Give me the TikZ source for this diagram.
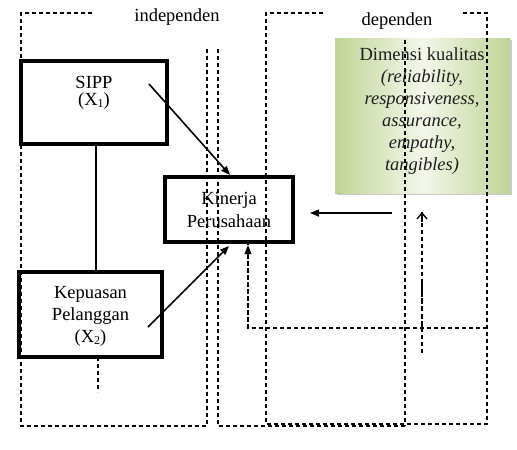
\documentclass[tikz,border=0pt]{standalone}
\usepackage{fontspec}
\setmainfont{Liberation Serif}
\usetikzlibrary{arrows.meta,shadows}
\definecolor{gdark}{RGB}{192,212,150}
\definecolor{glight}{RGB}{243,247,234}
\definecolor{txtdark}{RGB}{30,30,30}
\tikzset{
  x=1pt,y=-1pt,
  thickbox/.style={draw=black,line width=3.3pt,fill=white,inner sep=0pt},
  lbl/.style={font=\fontsize{18.5}{22}\selectfont,align=center,inner sep=0pt},
  dsh/.style={draw=black,line width=1.1pt,dash pattern=on 4pt off 3pt},
  solidarrow/.style={draw=black,line width=1.6pt,-{Triangle[length=9pt,width=7pt]}},
  greenbox/.style={inner sep=0pt,left color=gdark,right color=gdark,middle color=glight,
     drop shadow={shadow xshift=2pt,shadow yshift=-2pt,fill=black!35,opacity=0.6}},
}
\newcommand{\subnum}[1]{\raisebox{-0.2ex}{\fontsize{12}{12}\selectfont #1}}
\begin{document}
\begin{tikzpicture}
\useasboundingbox (0,0) rectangle (517,450);
% green box
\node[greenbox,minimum width=175pt,minimum height=155pt] (dim) at (422.5,115.5) {};
\node[lbl,text=txtdark] (dimt) at (422,111) {Dimensi kualitas\\\textit{(reliability,}\\\textit{responsiveness,}\\\textit{assurance,}\\\textit{empathy,}\\\textit{tangibles)}};
% boxes
\node[thickbox,minimum width=146pt,minimum height=83pt] (sipp) at (94,102.5) {};
\node[lbl,font=\fontsize{18.5}{17}\selectfont] (sippt) at (94,93) {SIPP\\(X\subnum{1})};
\node[thickbox,minimum width=143pt,minimum height=85pt] (kep) at (90.5,314.5) {};
\node[lbl] (kept) at (90.5,316.5) {Kepuasan\\Pelanggan\\(X\subnum{2})};
\node[thickbox,minimum width=128pt,minimum height=65pt] (kin) at (229,209.5) {};
\node[lbl,font=\fontsize{18.5}{23}\selectfont] (kint) at (229,209.5) {Kinerja\\Perusahaan};
% headings
\node[lbl] (indep) at (177,17) {independen};
\node[lbl] (dep) at (397,21) {dependen};
% coordinates
\coordinate (a1) at (149,84);
\coordinate (a2) at (230,175);
\coordinate (b1) at (148,327);
\coordinate (b2) at (229,246);
\coordinate (c1) at (392,213);
\coordinate (c2) at (310,213);
\coordinate (d1) at (487,328);
\coordinate (d2) at (248,328);
\coordinate (e1) at (422,353);
\coordinate (e2) at (422,212);
% dashed frames
\draw[dsh] (92,13) -- (21,13) -- (21,426) -- (207,426) -- (207,49);
\draw[dsh] (218,49) -- (218,426) -- (405,426);
\draw[dsh] (405,40) -- (405,426);
\draw[dsh] (323,13) -- (266,13) -- (266,424) -- (487,424) -- (487,13) -- (463,13);
\draw[dsh] (d1) -- (d2) -- (kin.south -| d2);
\draw[dsh,-{Triangle[length=9pt,width=7pt]}] (d2) -- ([yshift=-1.5pt]kin.south -| d2);
\draw[dsh] (e1) -- (e2);
\draw[draw=black,line width=2.2pt,dash pattern=on 5pt off 3pt] (422,282) -- (422,328);
\draw[line width=1.3pt,-{Straight Barb[length=6pt,width=10pt]}] (422,222) -- (e2);
\draw[dsh] (98,357) -- (98,392);
% solid connectors
\draw[line width=2.2pt] (sipp.south -| 96,0) -- (kep.north -| 96,0);
\draw[solidarrow] (a1) -- (a2);
\draw[solidarrow] (b1) -- (b2);
\draw[solidarrow] (c1) -- (c2);
\end{tikzpicture}
\end{document}
